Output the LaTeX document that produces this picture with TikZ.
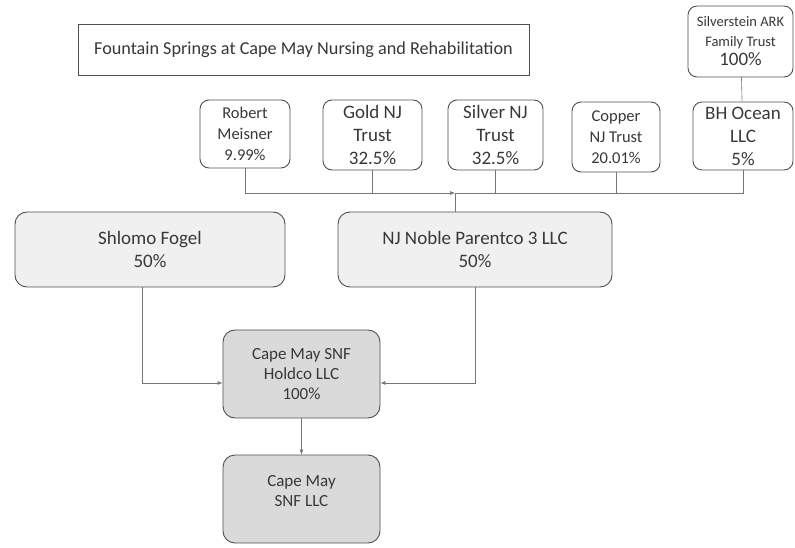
\documentclass[tikz,border=0pt]{standalone}
\usepackage{fontspec}
\setmainfont{Carlito}
\usetikzlibrary{arrows.meta}

\definecolor{edgegray}{HTML}{505050}
\definecolor{linegray}{HTML}{777777}
\definecolor{lightfill}{HTML}{F0F0F0}
\definecolor{darkfill}{HTML}{DADADA}

\tikzset{
  owner/.style={draw=edgegray,line width=0.9pt,rounded corners=9pt,align=center,
    inner sep=0pt,text=black!78},
  smallowner/.style={owner,font=\fontsize{16.5}{21}\selectfont},
  bigowner/.style={owner,font=\fontsize{19}{23}\selectfont},
  bigbox/.style={owner,fill=lightfill,rounded corners=12pt,font=\fontsize{19}{23}\selectfont},
  entity/.style={owner,fill=darkfill,rounded corners=12pt,font=\fontsize{17}{20}\selectfont},
  conn/.style={draw=linegray,line width=0.6pt},
  tip/.style={-{Latex[length=5pt,width=4pt]}}
}

\begin{document}
\begin{tikzpicture}[x=1pt,y=-1pt]
  \useasboundingbox (0,0) rectangle (795,548);

  \node[draw=edgegray,line width=0.9pt,minimum width=451pt,minimum height=51pt,
    font=\fontsize{18.2}{22}\selectfont,text=black!78] (title) at (303.5,49.5)
    {Fountain Springs at Cape May Nursing and Rehabilitation};

  \node[owner,font=\fontsize{14.5}{19.5}\selectfont,minimum width=105pt,minimum height=71pt] (ark) at (740.5,41.5)
    {Silverstein ARK\\Family Trust\\{\fontsize{19}{19.5}\selectfont 100\%}};

  \node[smallowner,minimum width=90pt,minimum height=68pt] (rob) at (245,134)
    {Robert\\Meisner\\9.99\%};
  \node[bigowner,minimum width=99pt,minimum height=70pt] (gold) at (372.5,135)
    {Gold NJ\\Trust\\32.5\%};
  \node[bigowner,minimum width=95pt,minimum height=70pt] (silver) at (495.5,135)
    {Silver NJ\\Trust\\32.5\%};
  \node[smallowner,minimum width=88pt,minimum height=70pt] (copper) at (616,137)
    {Copper\\NJ Trust\\20.01\%};
  \node[bigowner,minimum width=100pt,minimum height=68pt] (bh) at (743,136)
    {BH Ocean\\LLC\\5\%};

  \node[bigbox,minimum width=270pt,minimum height=75pt] (fogel) at (150,249.5)
    {Shlomo Fogel\\50\%};
  \node[bigbox,minimum width=274pt,minimum height=75pt] (noble) at (475,249.5)
    {NJ Noble Parentco 3 LLC\\50\%};

  \node[entity,minimum width=157pt,minimum height=88pt] (holdco) at (301.5,374)
    {Cape May SNF\\Holdco LLC\\100\%};
  \node[entity,minimum width=157pt,minimum height=88pt] (snf) at (301.5,499)
    {Cape May\\SNF LLC\\[-4pt]};

  % ownership lines
  \coordinate (jn) at (455,193);
  \draw[conn] (ark) -- (bh);
  \draw[conn,tip] (rob.south) |- (jn);
  \draw[conn] (gold.south) -- (gold.south |- jn);
  \draw[conn] (silver.south) -- (silver.south |- jn);
  \draw[conn] (copper.south) -- (copper.south |- jn);
  \draw[conn] (bh.south) |- (jn);
  \draw[conn] (jn) -- (jn |- noble.north);

  \draw[conn,tip] ([xshift=-8pt]fogel.south) |- ([yshift=-9pt]holdco.west);
  \draw[conn,tip] (noble.south) |- ([yshift=-9pt]holdco.east);
  \draw[conn,tip] (holdco) -- (snf);
\end{tikzpicture}
\end{document}
